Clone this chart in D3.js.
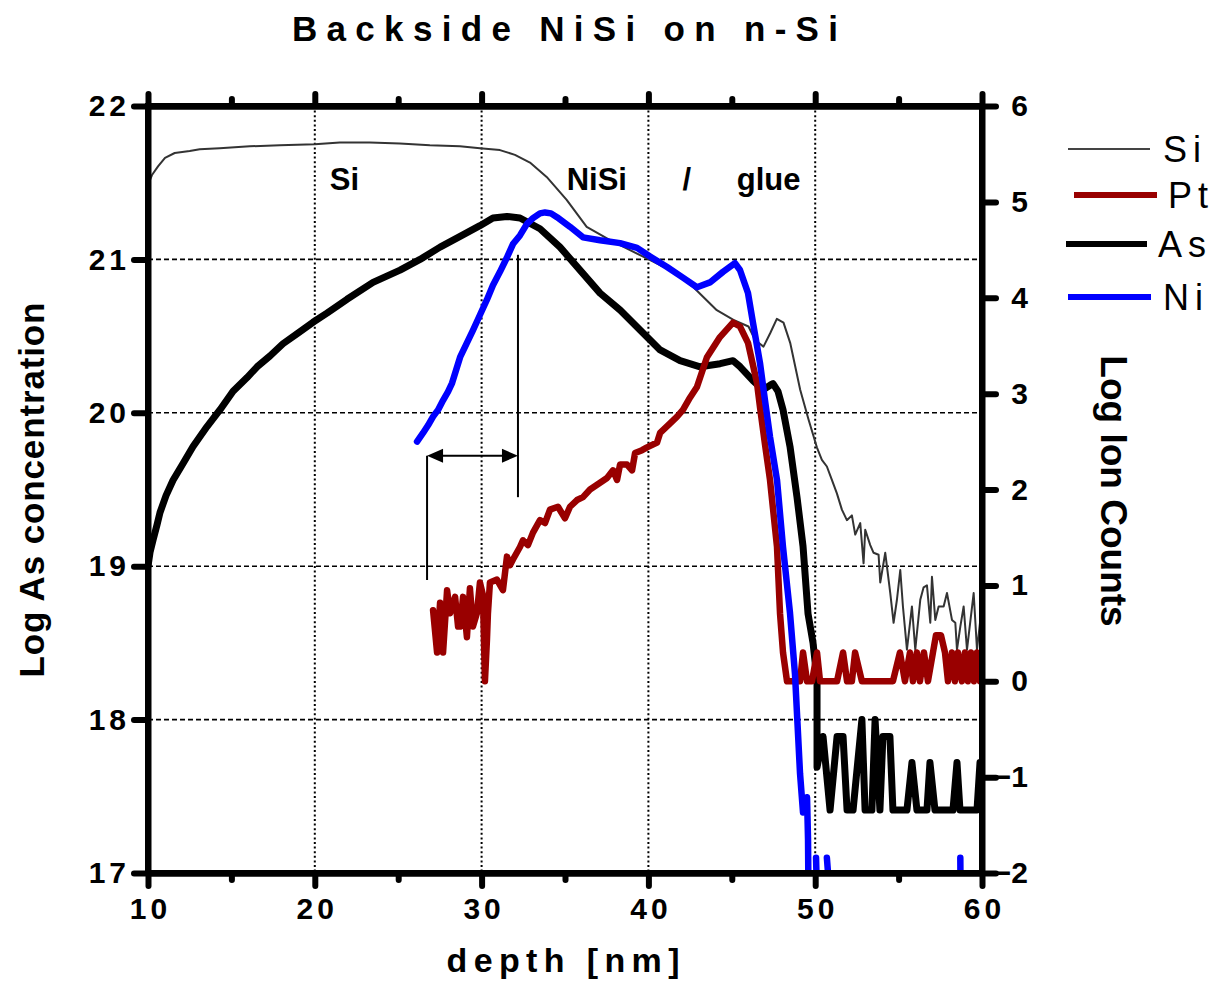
<!DOCTYPE html>
<html>
<head>
<meta charset="utf-8">
<script src="https://cdn.jsdelivr.net/npm/d3@7"></script>
<style>
  html, body { margin: 0; padding: 0; background: #fff; }
  svg { display: block; font-family: Arial, "Liberation Sans", sans-serif; }
</style>
</head>
<body>
<svg id="chart" width="1215" height="983"></svg>
<script>
// ---- Depth profiles (depth in nm) ----
// Si ion counts (log, right axis)
const siDepth = [10.0, 10.24, 10.6, 11.02, 11.6, 12.5, 13.1, 14.3, 16.1, 17.9, 20.0, 21.5, 23.3, 25.1, 26.9, 28.7, 29.9, 31.1, 32.0, 32.9, 33.9, 35.1, 36.3, 37.7, 39.9, 41.5, 42.7, 44.1, 45.1, 46.0, 46.4, 46.9, 47.3, 47.7, 48.1, 48.5, 49.1, 49.6, 50.1, 50.4, 50.7, 51.0, 51.3, 51.6, 51.9, 52.2, 52.4, 52.7, 52.9, 53.0, 53.3, 53.5, 53.8, 53.9, 54.2, 54.5, 54.7, 54.9, 55.1, 55.26, 55.5, 55.8, 56.0, 56.3, 56.5, 56.7, 56.9, 57.0, 57.2, 57.4, 57.7, 57.9, 58.2, 58.4, 58.5, 58.7, 58.9, 59.1, 59.5, 59.7, 59.9];
const siCounts = [5.18, 5.28, 5.37, 5.46, 5.51, 5.53, 5.55, 5.56, 5.58, 5.59, 5.60, 5.62, 5.62, 5.61, 5.59, 5.58, 5.56, 5.54, 5.49, 5.41, 5.26, 5.02, 4.74, 4.60, 4.41, 4.27, 4.11, 3.87, 3.77, 3.70, 3.56, 3.49, 3.63, 3.78, 3.74, 3.53, 3.04, 2.73, 2.44, 2.31, 2.24, 2.10, 1.96, 1.79, 1.68, 1.73, 1.53, 1.65, 1.23, 1.58, 1.42, 1.34, 1.32, 1.03, 1.34, 0.92, 0.61, 0.85, 1.16, 0.78, 0.33, 0.78, 0.33, 0.85, 0.98, 1.00, 0.61, 1.09, 0.64, 0.78, 0.78, 0.92, 0.64, 0.61, 0.33, 0.57, 0.78, 0.33, 0.92, 0.33, 0.64];

// As concentration (log cm^-3, left axis)
const asDepth = [10.0, 10.12, 10.3, 10.54, 10.72, 11.08, 11.5, 12.1, 12.7, 13.54, 14.32, 15.1, 15.94, 16.54, 17.31, 18.09, 18.99, 19.89, 20.73, 21.93, 23.49, 25.11, 26.31, 27.51, 28.71, 29.9, 30.68, 31.52, 32.3, 33.5, 34.7, 35.9, 37.1, 38.3, 39.5, 40.7, 41.9, 43.1, 44.3, 45.07, 45.5, 46.27, 46.87, 47.3, 47.47, 47.77, 48.07, 48.49, 48.91, 49.27, 49.57, 49.87, 50.11, 50.11, 50.47, 50.89, 51.31, 51.67, 51.91, 52.27, 52.8, 52.99, 53.4, 53.59, 53.88, 54.06, 54.48, 54.66, 55.5, 55.8, 56.1, 56.7, 56.88, 57.18, 58.26, 58.5, 58.68, 59.7, 59.88];
const asConc = [19.0, 19.09, 19.17, 19.27, 19.35, 19.46, 19.56, 19.67, 19.78, 19.91, 20.02, 20.14, 20.23, 20.30, 20.37, 20.45, 20.52, 20.59, 20.65, 20.74, 20.85, 20.93, 21.00, 21.08, 21.15, 21.22, 21.27, 21.28, 21.27, 21.20, 21.08, 20.93, 20.78, 20.67, 20.54, 20.41, 20.34, 20.30, 20.32, 20.34, 20.30, 20.21, 20.15, 20.18, 20.19, 20.14, 20.02, 19.78, 19.45, 19.13, 18.69, 18.50, 18.26, 17.69, 17.89, 17.41, 17.89, 17.89, 17.41, 17.41, 18.0, 17.41, 17.41, 18.0, 17.41, 17.89, 17.89, 17.41, 17.41, 17.72, 17.41, 17.41, 17.72, 17.41, 17.41, 17.72, 17.41, 17.41, 17.72];

// Pt ion counts (log, right axis)
const ptDepth = [27.09, 27.33, 27.51, 27.69, 27.93, 28.11, 28.41, 28.59, 28.71, 28.89, 29.12, 29.3, 29.48, 29.72, 29.9, 30.08, 30.2, 30.32, 30.38, 30.5, 30.92, 31.28, 31.52, 31.7, 31.88, 32.3, 32.48, 32.78, 33.08, 33.5, 33.8, 34.1, 34.58, 35.0, 35.3, 35.72, 36.08, 36.5, 37.1, 37.52, 37.88, 38.12, 38.3, 38.72, 39.02, 39.2, 39.62, 39.92, 40.52, 40.7, 41.3, 41.72, 42.07, 42.5, 42.91, 43.51, 44.29, 45.07, 45.49, 45.97, 46.51, 46.69, 46.99, 47.29, 47.71, 47.89, 48.07, 48.31, 49.09, 49.27, 49.51, 49.81, 50.11, 50.29, 51.31, 51.67, 51.91, 52.2, 52.39, 52.8, 54.66, 55.08, 55.38, 55.68, 55.86, 56.1, 56.28, 56.52, 56.76, 57.06, 57.24, 57.54, 57.78, 57.96, 58.2, 58.38, 58.56, 58.8, 58.98, 59.16, 59.34, 59.52, 59.7, 59.88];
const ptCounts = [0.74, 0.30, 0.82, 0.30, 0.95, 0.71, 0.88, 0.57, 0.57, 0.88, 0.46, 0.97, 0.57, 0.71, 1.03, 0.90, 0.0, 0.43, 0.71, 1.03, 1.06, 0.95, 1.30, 1.21, 1.27, 1.40, 1.47, 1.42, 1.55, 1.68, 1.65, 1.79, 1.82, 1.70, 1.82, 1.89, 1.92, 2.00, 2.07, 2.12, 2.20, 2.10, 2.26, 2.26, 2.20, 2.38, 2.41, 2.44, 2.49, 2.59, 2.69, 2.76, 2.83, 2.96, 3.07, 3.38, 3.59, 3.74, 3.70, 3.53, 3.11, 2.86, 2.47, 2.10, 1.40, 0.71, 0.30, 0, 0, 0.30, 0, 0, 0.30, 0, 0, 0.30, 0, 0, 0.30, 0, 0, 0.30, 0, 0.30, 0, 0.30, 0, 0.30, 0, 0.30, 0.48, 0.48, 0.30, 0, 0.30, 0, 0.30, 0, 0.30, 0, 0.30, 0, 0.30, 0];

// Ni ion counts (log, right axis); null marks a gap in the trace
const niDepth = [26.13, 26.49, 26.79, 27.09, 27.39, 27.69, 27.99, 28.23, 28.71, 29.12, 29.48, 29.9, 30.32, 30.68, 31.1, 31.52, 31.88, 32.3, 32.72, 33.08, 33.5, 33.8, 34.16, 34.52, 35.3, 36.08, 37.1, 38.3, 39.32, 40.1, 41.12, 42.07, 42.91, 43.69, 44.47, 45.19, 45.49, 45.97, 46.27, 46.69, 46.99, 47.29, 47.71, 48.07, 48.49, 48.79, 49.09, 49.27, 49.51, 49.57, 49.6, 49.6, 50.05, 50.12, 50.12, 50.7, 50.9, 50.9, 58.7, 58.72];
const niCounts = [2.50, 2.59, 2.67, 2.76, 2.83, 2.93, 3.02, 3.11, 3.38, 3.53, 3.66, 3.82, 3.98, 4.13, 4.27, 4.42, 4.56, 4.65, 4.77, 4.83, 4.88, 4.89, 4.88, 4.84, 4.74, 4.63, 4.60, 4.57, 4.52, 4.43, 4.32, 4.21, 4.11, 4.16, 4.27, 4.36, 4.29, 4.05, 3.74, 3.32, 2.93, 2.55, 2.10, 1.40, 0.71, 0.07, -0.96, -1.37, -1.21, -1.65, -2.3, null, -1.84, -2.3, null, -1.84, -2.3, null, -1.84, -2.3];

// ---- Axis ticks ----
const depthTicks = [10, 20, 30, 40, 50, 60];
const depthMinorTicks = [15, 25, 35, 45, 55];
const asTicks = [17, 18, 19, 20, 21, 22];
const countTicks = [-2, -1, 0, 1, 2, 3, 4, 5, 6];
const gridDepths = [20, 30, 40, 50];
const gridConc = [18, 19, 20, 21];

// Region labels across the profile
const regionLabels = [
  { text: "Si", depth: 20.9 },
  { text: "NiSi", depth: 35.1 },
  { text: "/", depth: 42.05 },
  { text: "glue", depth: 45.3 }
];

const svg = d3.select("#chart");
const pL = 148, pR = 982, pT = 106, pB = 873;

const x = d3.scaleLinear().domain([10, 60]).range([pL, pR]);
const yL = d3.scaleLinear().domain([17, 22]).range([pB, pT]);
const yR = d3.scaleLinear().domain([-2, 6]).range([pB, pT]);

svg.append("defs").append("clipPath").attr("id", "plotClip")
  .append("rect").attr("x", pL).attr("y", pT)
  .attr("width", pR - pL).attr("height", pB - pT);

// grid
const grid = svg.append("g");
grid.selectAll("line.v").data(gridDepths).join("line").attr("class", "v")
  .attr("x1", d => x(d)).attr("x2", d => x(d))
  .attr("y1", pT).attr("y2", pB)
  .attr("stroke", "#000").attr("stroke-width", 2)
  .attr("stroke-dasharray", "2,2.6");
grid.selectAll("line.h").data(gridConc).join("line").attr("class", "h")
  .attr("x1", pL).attr("x2", pR)
  .attr("y1", d => yL(d)).attr("y2", d => yL(d))
  .attr("stroke", "#000").attr("stroke-width", 1.6)
  .attr("stroke-dasharray", "5,3");

// curves
const plot = svg.append("g").attr("clip-path", "url(#plotClip)");
function drawSeries(depths, vals, yScale, color, width) {
  const pts = depths.map((d, i) => [d, vals[i]]);
  const line = d3.line()
    .defined(p => p[1] !== null)
    .x(p => x(p[0])).y(p => yScale(p[1]));
  plot.append("path").datum(pts)
    .attr("d", line).attr("fill", "none")
    .attr("stroke", color).attr("stroke-width", width)
    .attr("stroke-linejoin", "round").attr("stroke-linecap", "round");
}
drawSeries(siDepth, siCounts, yR, "#333333", 2);
drawSeries(asDepth, asConc, yL, "#000000", 7);
drawSeries(ptDepth, ptCounts, yR, "#990000", 6.5);
drawSeries(niDepth, niCounts, yR, "#0000ff", 6.5);

// depth-difference marker
const markA = 26.73, markB = 32.18;
const ann = svg.append("g").attr("stroke", "#000").attr("stroke-width", 2);
ann.append("line").attr("x1", x(markA)).attr("x2", x(markA))
  .attr("y1", yL(19.72)).attr("y2", yL(18.91));
ann.append("line").attr("x1", x(markB)).attr("x2", x(markB))
  .attr("y1", yL(21.03)).attr("y2", yL(19.45));
ann.append("line").attr("x1", x(markA) + 12).attr("x2", x(markB) - 12)
  .attr("y1", yL(19.72)).attr("y2", yL(19.72));
const ay = yL(19.72);
svg.append("path")
  .attr("d", `M${x(markA)},${ay} l16,-7 l0,14 Z M${x(markB)},${ay} l-16,-7 l0,14 Z`)
  .attr("fill", "#000");

// region labels
svg.append("g").selectAll("text").data(regionLabels).join("text")
  .attr("x", d => x(d.depth)).attr("y", 190)
  .attr("font-size", 31).attr("font-weight", "bold")
  .text(d => d.text);

// axes
function styleAxis(g, width) {
  g.select(".domain").attr("stroke-width", width).attr("stroke-linecap", "round");
  g.selectAll(".tick line").attr("stroke-width", 6).attr("stroke-linecap", "round");
}
const axisFont = g => g.selectAll("text")
  .attr("font-family", "Arial, 'Liberation Sans', sans-serif")
  .attr("font-size", 30).attr("font-weight", "bold").attr("fill", "#000");

// bottom
const gb = svg.append("g").attr("transform", `translate(0,${pB})`)
  .call(d3.axisBottom(x).tickValues(depthTicks).tickSize(13).tickSizeOuter(0).tickPadding(12).tickFormat(d3.format("d")));
styleAxis(gb, 6); axisFont(gb);
gb.selectAll("text").attr("letter-spacing", 4).attr("dx", 2);
const gbm = svg.append("g").attr("transform", `translate(0,${pB})`)
  .call(d3.axisBottom(x).tickValues(depthMinorTicks).tickSize(7).tickSizeOuter(0).tickFormat(""));
styleAxis(gbm, 6);

// top
const gt = svg.append("g").attr("transform", `translate(0,${pT})`)
  .call(d3.axisTop(x).tickValues(depthTicks).tickSize(12).tickSizeOuter(0).tickFormat(""));
styleAxis(gt, 6);
const gtm = svg.append("g").attr("transform", `translate(0,${pT})`)
  .call(d3.axisTop(x).tickValues(depthMinorTicks).tickSize(7).tickSizeOuter(0).tickFormat(""));
styleAxis(gtm, 6);

// left
const gl = svg.append("g").attr("transform", `translate(${pL},0)`)
  .call(d3.axisLeft(yL).tickValues(asTicks).tickSize(14).tickSizeOuter(0).tickPadding(8).tickFormat(d3.format("d")));
styleAxis(gl, 6); axisFont(gl);
gl.selectAll("text").attr("letter-spacing", 4).attr("dx", 4);

// right
const gr = svg.append("g").attr("transform", `translate(${pR},0)`)
  .call(d3.axisRight(yR).tickValues(countTicks).tickSize(14).tickSizeOuter(0).tickFormat(d3.format("d")));
styleAxis(gr, 6); axisFont(gr);
gr.selectAll("text").attr("text-anchor", "end").attr("x", 46);

// plot frame
svg.append("rect").attr("x", pL).attr("y", pT)
  .attr("width", pR - pL).attr("height", pB - pT)
  .attr("fill", "none").attr("stroke", "#000").attr("stroke-width", 6);

// titles
svg.append("text").attr("x", 565).attr("y", 41)
  .attr("text-anchor", "middle").attr("font-size", 35).attr("font-weight", "bold")
  .attr("textLength", 546).attr("lengthAdjust", "spacing")
  .text("Backside NiSi on n-Si");

svg.append("text").attr("x", 563).attr("y", 972)
  .attr("text-anchor", "middle").attr("font-size", 34).attr("font-weight", "bold")
  .attr("textLength", 233).attr("lengthAdjust", "spacing")
  .text("depth [nm]");

svg.append("text").attr("transform", "translate(44,490) rotate(-90)")
  .attr("text-anchor", "middle").attr("font-size", 35).attr("font-weight", "bold")
  .attr("textLength", 375).attr("lengthAdjust", "spacing")
  .text("Log As concentration");

svg.append("text").attr("transform", "translate(1101,491) rotate(90)")
  .attr("text-anchor", "middle").attr("font-size", 37).attr("font-weight", "bold")
  .text("Log Ion Counts");

// legend
const legendItems = [
  { name: "Si", color: "#444444", width: 2, x1: 1068, x2: 1150, y: 149, tx: 1163 },
  { name: "Pt", color: "#990000", width: 6, x1: 1074, x2: 1157, y: 195, tx: 1168 },
  { name: "As", color: "#000000", width: 6, x1: 1066, x2: 1147, y: 244, tx: 1158 },
  { name: "Ni", color: "#0000ff", width: 6, x1: 1068, x2: 1151, y: 297, tx: 1163 }
];
const lg = svg.append("g");
lg.selectAll("line").data(legendItems).join("line")
  .attr("x1", d => d.x1).attr("x2", d => d.x2)
  .attr("y1", d => d.y).attr("y2", d => d.y)
  .attr("stroke", d => d.color).attr("stroke-width", d => d.width);
lg.selectAll("text").data(legendItems).join("text")
  .attr("x", d => d.tx).attr("y", d => d.y + 13)
  .attr("font-size", 36).attr("letter-spacing", 6)
  .text(d => d.name);
</script>
</body>
</html>
